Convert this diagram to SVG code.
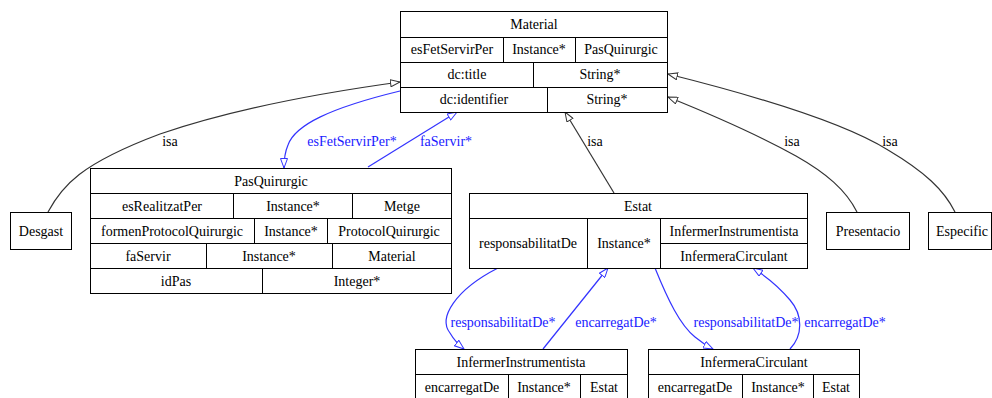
<svg xmlns="http://www.w3.org/2000/svg" width="992" height="398" viewBox="0 0 992 398">
  <style>
    text { font-family: "Liberation Serif", "Times New Roman", serif; font-size: 14px; text-anchor: middle; fill: #000; }
    .box { fill: #fff; stroke: #000; stroke-width: 1; }
    .cell { stroke: #000; stroke-width: 1; }
    .isa { fill: none; stroke: #333; stroke-width: 1.2; marker-end: url(#hollowBlack); }
    .rel { fill: none; stroke: #3333ff; stroke-width: 1.2; marker-end: url(#hollowBlue); }
    .rlabel { fill: #1a1aff; }
  </style>
  <defs>
    <marker id="hollowBlack" viewBox="0 0 11 8" refX="10" refY="4" markerWidth="11" markerHeight="8" markerUnits="userSpaceOnUse" orient="auto">
      <path d="M0.5,0.5 L10,4 L0.5,7.5 Z" fill="#fff" stroke="#333" stroke-width="1"/>
    </marker>
    <marker id="hollowBlue" viewBox="0 0 11 8" refX="10" refY="4" markerWidth="11" markerHeight="8" markerUnits="userSpaceOnUse" orient="auto">
      <path d="M0.5,0.5 L10,4 L0.5,7.5 Z" fill="#fff" stroke="#3333ff" stroke-width="1"/>
    </marker>
  </defs>

  <rect width="992" height="398" fill="#fff"/>

  <!-- connectors -->
  <g id="edges">
    <path class="isa" d="M48,212 C62,186 80,164 160,134 C230,110 320,93 400,82"/>
    <text x="170" y="146">isa</text>

    <path class="rel" d="M400,91 C330,108 295,125 288,145 C285,152 284,160 284,168"/>
    <text class="rlabel" x="352" y="146">esFetServirPer*</text>

    <path class="rel" d="M368,167 L457,112"/>
    <text class="rlabel" x="446" y="146">faServir*</text>

    <path class="isa" d="M614,193 L565,112"/>
    <text x="595" y="146">isa</text>

    <path class="isa" d="M857,212 C846,190 826,173 796,156 C760,136 715,116 668,97"/>
    <text x="792" y="146">isa</text>

    <path class="isa" d="M955,212 C944,190 925,172 888,150 C840,120 740,92 668,74"/>
    <text x="890" y="146">isa</text>

    <path class="rel" d="M498,268 C455,290 438,318 450,333 C454,340 459,345 464,349"/>
    <text class="rlabel" x="503" y="327">responsabilitatDe*</text>

    <path class="rel" d="M543,349 L608,268"/>
    <text class="rlabel" x="616" y="327">encarregatDe*</text>

    <path class="rel" d="M655,268 C668,300 680,325 695,337 C701,342 707,346 713,349"/>
    <text class="rlabel" x="746" y="327">responsabilitatDe*</text>

    <path class="rel" d="M790,349 C803,335 803,315 790,300 C780,288 767,277 753,268"/>
    <text class="rlabel" x="845" y="327">encarregatDe*</text>
  </g>

  <!-- Material -->
  <g id="Material">
    <rect class="box" x="400.5" y="11.5" width="267" height="101"/>
    <line class="cell" x1="400.5" y1="37.5" x2="667.5" y2="37.5"/>
    <line class="cell" x1="400.5" y1="62.5" x2="667.5" y2="62.5"/>
    <line class="cell" x1="400.5" y1="87.5" x2="667.5" y2="87.5"/>
    <line class="cell" x1="503.5" y1="37.5" x2="503.5" y2="62.5"/>
    <line class="cell" x1="575.5" y1="37.5" x2="575.5" y2="62.5"/>
    <line class="cell" x1="533.5" y1="62.5" x2="533.5" y2="87.5"/>
    <line class="cell" x1="547.5" y1="87.5" x2="547.5" y2="112.5"/>
    <text x="534" y="29">Material</text>
    <text x="452" y="54">esFetServirPer</text>
    <text x="539" y="54">Instance*</text>
    <text x="621" y="54">PasQuirurgic</text>
    <text x="467" y="79">dc:title</text>
    <text x="600" y="79">String*</text>
    <text x="474" y="104">dc:identifier</text>
    <text x="607" y="104">String*</text>
  </g>

  <!-- PasQuirurgic -->
  <g id="PasQuirurgic">
    <rect class="box" x="90.5" y="168.5" width="361" height="125"/>
    <line class="cell" x1="90.5" y1="193.5" x2="451.5" y2="193.5"/>
    <line class="cell" x1="90.5" y1="218.5" x2="451.5" y2="218.5"/>
    <line class="cell" x1="90.5" y1="243.5" x2="451.5" y2="243.5"/>
    <line class="cell" x1="90.5" y1="268.5" x2="451.5" y2="268.5"/>
    <line class="cell" x1="233.5" y1="193.5" x2="233.5" y2="218.5"/>
    <line class="cell" x1="352.5" y1="193.5" x2="352.5" y2="218.5"/>
    <line class="cell" x1="254.5" y1="218.5" x2="254.5" y2="243.5"/>
    <line class="cell" x1="327.5" y1="218.5" x2="327.5" y2="243.5"/>
    <line class="cell" x1="206.5" y1="243.5" x2="206.5" y2="268.5"/>
    <line class="cell" x1="332.5" y1="243.5" x2="332.5" y2="268.5"/>
    <line class="cell" x1="262.5" y1="268.5" x2="262.5" y2="293.5"/>
    <text x="271" y="186">PasQuirurgic</text>
    <text x="162" y="211">esRealitzatPer</text>
    <text x="293" y="211">Instance*</text>
    <text x="402" y="211">Metge</text>
    <text x="172" y="236">formenProtocolQuirurgic</text>
    <text x="291" y="236">Instance*</text>
    <text x="389" y="236">ProtocolQuirurgic</text>
    <text x="148" y="261">faServir</text>
    <text x="269" y="261">Instance*</text>
    <text x="392" y="261">Material</text>
    <text x="176" y="286">idPas</text>
    <text x="357" y="286">Integer*</text>
  </g>

  <!-- Desgast -->
  <g id="Desgast">
    <rect class="box" x="10.5" y="212.5" width="61" height="37"/>
    <text x="41" y="236">Desgast</text>
  </g>

  <!-- Estat -->
  <g id="Estat">
    <rect class="box" x="469.5" y="193.5" width="338" height="75"/>
    <line class="cell" x1="469.5" y1="218.5" x2="807.5" y2="218.5"/>
    <line class="cell" x1="587.5" y1="218.5" x2="587.5" y2="268.5"/>
    <line class="cell" x1="660.5" y1="218.5" x2="660.5" y2="268.5"/>
    <line class="cell" x1="660.5" y1="243.5" x2="807.5" y2="243.5"/>
    <text x="638" y="211">Estat</text>
    <text x="528" y="248">responsabilitatDe</text>
    <text x="624" y="248">Instance*</text>
    <text x="734" y="236">InfermerInstrumentista</text>
    <text x="734" y="261">InfermeraCirculant</text>
  </g>

  <!-- Presentacio -->
  <g id="Presentacio">
    <rect class="box" x="826.5" y="212.5" width="83" height="37"/>
    <text x="868" y="236">Presentacio</text>
  </g>

  <!-- Especific -->
  <g id="Especific">
    <rect class="box" x="928.5" y="212.5" width="63" height="37"/>
    <text x="962" y="236">Especific</text>
  </g>

  <!-- InfermerInstrumentista -->
  <g id="InfermerInstrumentista">
    <rect class="box" x="415.5" y="349.5" width="212" height="60"/>
    <line class="cell" x1="415.5" y1="374.5" x2="627.5" y2="374.5"/>
    <line class="cell" x1="508.5" y1="374.5" x2="508.5" y2="399.5"/>
    <line class="cell" x1="580.5" y1="374.5" x2="580.5" y2="399.5"/>
    <text x="521" y="367">InfermerInstrumentista</text>
    <text x="462" y="392">encarregatDe</text>
    <text x="544" y="392">Instance*</text>
    <text x="604" y="392">Estat</text>
  </g>

  <!-- InfermeraCirculant -->
  <g id="InfermeraCirculant">
    <rect class="box" x="648.5" y="349.5" width="211" height="60"/>
    <line class="cell" x1="648.5" y1="374.5" x2="859.5" y2="374.5"/>
    <line class="cell" x1="742.5" y1="374.5" x2="742.5" y2="399.5"/>
    <line class="cell" x1="813.5" y1="374.5" x2="813.5" y2="399.5"/>
    <text x="754" y="367">InfermeraCirculant</text>
    <text x="695" y="392">encarregatDe</text>
    <text x="778" y="392">Instance*</text>
    <text x="836" y="392">Estat</text>
  </g>
</svg>
